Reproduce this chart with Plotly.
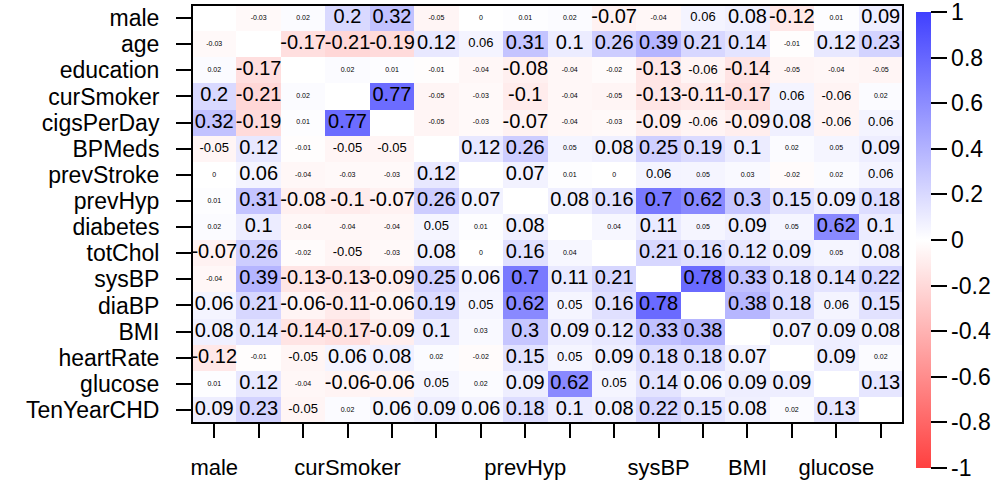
import plotly.graph_objects as go

variables = ["male", "age", "education", "curSmoker", "cigsPerDay", "BPMeds",
             "prevStroke", "prevHyp", "diabetes", "totChol", "sysBP", "diaBP",
             "BMI", "heartRate", "glucose", "TenYearCHD"]

# Pairwise correlations, one row per variable (diagonal left empty)
r_male       = [None, -0.03, 0.02, 0.2, 0.32, -0.05, 0, 0.01, 0.02, -0.07, -0.04, 0.06, 0.08, -0.12, 0.01, 0.09]
r_age        = [-0.03, None, -0.17, -0.21, -0.19, 0.12, 0.06, 0.31, 0.1, 0.26, 0.39, 0.21, 0.14, -0.01, 0.12, 0.23]
r_education  = [0.02, -0.17, None, 0.02, 0.01, -0.01, -0.04, -0.08, -0.04, -0.02, -0.13, -0.06, -0.14, -0.05, -0.04, -0.05]
r_curSmoker  = [0.2, -0.21, 0.02, None, 0.77, -0.05, -0.03, -0.1, -0.04, -0.05, -0.13, -0.11, -0.17, 0.06, -0.06, 0.02]
r_cigsPerDay = [0.32, -0.19, 0.01, 0.77, None, -0.05, -0.03, -0.07, -0.04, -0.03, -0.09, -0.06, -0.09, 0.08, -0.06, 0.06]
r_BPMeds     = [-0.05, 0.12, -0.01, -0.05, -0.05, None, 0.12, 0.26, 0.05, 0.08, 0.25, 0.19, 0.1, 0.02, 0.05, 0.09]
r_prevStroke = [0, 0.06, -0.04, -0.03, -0.03, 0.12, None, 0.07, 0.01, 0, 0.06, 0.05, 0.03, -0.02, 0.02, 0.06]
r_prevHyp    = [0.01, 0.31, -0.08, -0.1, -0.07, 0.26, 0.07, None, 0.08, 0.16, 0.7, 0.62, 0.3, 0.15, 0.09, 0.18]
r_diabetes   = [0.02, 0.1, -0.04, -0.04, -0.04, 0.05, 0.01, 0.08, None, 0.04, 0.11, 0.05, 0.09, 0.05, 0.62, 0.1]
r_totChol    = [-0.07, 0.26, -0.02, -0.05, -0.03, 0.08, 0, 0.16, 0.04, None, 0.21, 0.16, 0.12, 0.09, 0.05, 0.08]
r_sysBP      = [-0.04, 0.39, -0.13, -0.13, -0.09, 0.25, 0.06, 0.7, 0.11, 0.21, None, 0.78, 0.33, 0.18, 0.14, 0.22]
r_diaBP      = [0.06, 0.21, -0.06, -0.11, -0.06, 0.19, 0.05, 0.62, 0.05, 0.16, 0.78, None, 0.38, 0.18, 0.06, 0.15]
r_BMI        = [0.08, 0.14, -0.14, -0.17, -0.09, 0.1, 0.03, 0.3, 0.09, 0.12, 0.33, 0.38, None, 0.07, 0.09, 0.08]
r_heartRate  = [-0.12, -0.01, -0.05, 0.06, 0.08, 0.02, -0.02, 0.15, 0.05, 0.09, 0.18, 0.18, 0.07, None, 0.09, 0.02]
r_glucose    = [0.01, 0.12, -0.04, -0.06, -0.06, 0.05, 0.02, 0.09, 0.62, 0.05, 0.14, 0.06, 0.09, 0.09, None, 0.13]
r_TenYearCHD = [0.09, 0.23, -0.05, 0.02, 0.06, 0.09, 0.06, 0.18, 0.1, 0.08, 0.22, 0.15, 0.08, 0.02, 0.13, None]

# Only some column names are printed under the x axis
x_labels_shown = ["male", "curSmoker", "prevHyp", "sysBP", "BMI", "glucose"]

cbar_ticks = [1, 0.8, 0.6, 0.4, 0.2, 0, -0.2, -0.4, -0.6, -0.8, -1]

rows = [r_male, r_age, r_education, r_curSmoker, r_cigsPerDay, r_BPMeds,
        r_prevStroke, r_prevHyp, r_diabetes, r_totChol, r_sysBP, r_diaBP,
        r_BMI, r_heartRate, r_glucose, r_TenYearCHD]

n = len(variables)
idx = list(range(n))

FONT = "Liberation Sans, Arial, sans-serif"


def label_size(v, i, j):
    """Coefficient labels shrink for weak correlations."""
    a = round(abs(v), 2)
    lim = 0.05 if j > i else 0.04
    if a <= lim:
        return 7
    if a <= lim + 0.01:
        return 13
    return 20


def fmt(v):
    return f"{v:g}".replace("\u2212", "-")


tx, ty, tt, ts = [], [], [], []
for i, row in enumerate(rows):
    for j, v in enumerate(row):
        if v is None:
            continue
        tx.append(j)
        ty.append(i)
        tt.append(fmt(v))
        ts.append(label_size(v, i, j))

colorscale = [[0.0, "rgb(255,64,64)"], [0.5, "rgb(255,255,255)"], [1.0, "rgb(64,64,255)"]]

fig = go.Figure()
fig.add_trace(go.Heatmap(
    z=rows, x=idx, y=idx,
    zmin=-1, zmax=1, colorscale=colorscale,
    hoverinfo="skip",
    colorbar=dict(
        thickness=15, thicknessmode="pixels",
        len=456, lenmode="pixels",
        x=1.0183, xanchor="left", xpad=0,
        y=0.9833, yanchor="top", ypad=0,
        outlinewidth=0,
        tickmode="array",
        tickvals=cbar_ticks,
        ticktext=[fmt(t) for t in cbar_ticks],
        ticklabeloverflow="allow",
        ticks="outside", ticklen=16, tickwidth=1.5, tickcolor="black",
        tickfont=dict(family=FONT, size=23, color="black"),
    ),
))

fig.add_trace(go.Scatter(
    x=tx, y=ty, text=tt, mode="text",
    textfont=dict(family=FONT, size=ts, color="black"),
    hoverinfo="skip", showlegend=False,
))

fig.update_layout(
    width=1007, height=484,
    margin=dict(l=192, r=104, t=5, b=61, autoexpand=False),
    paper_bgcolor="white", plot_bgcolor="white",
    showlegend=False,
    xaxis=dict(
        range=[-0.5, n - 0.5], tickvals=idx,
        ticktext=[v if v in x_labels_shown else "" for v in variables],
        ticks="outside", ticklen=14, tickwidth=1.5, tickcolor="black",
        ticklabelstandoff=11, automargin=False,
        tickfont=dict(family=FONT, size=22, color="black"),
        showgrid=False, zeroline=False, showline=False,
    ),
    yaxis=dict(
        range=[n - 0.5, -0.5], tickvals=idx, ticktext=variables,
        ticks="outside", ticklen=15, tickwidth=1.5, tickcolor="black",
        ticklabelstandoff=12, automargin=False,
        tickfont=dict(family=FONT, size=23, color="black"),
        showgrid=False, zeroline=False, showline=False,
    ),
    shapes=[dict(type="rect", xref="paper", yref="paper", x0=0, x1=1, y0=0, y1=1,
                 line=dict(color="black", width=2))],
)

fig.write_html("out.html")
